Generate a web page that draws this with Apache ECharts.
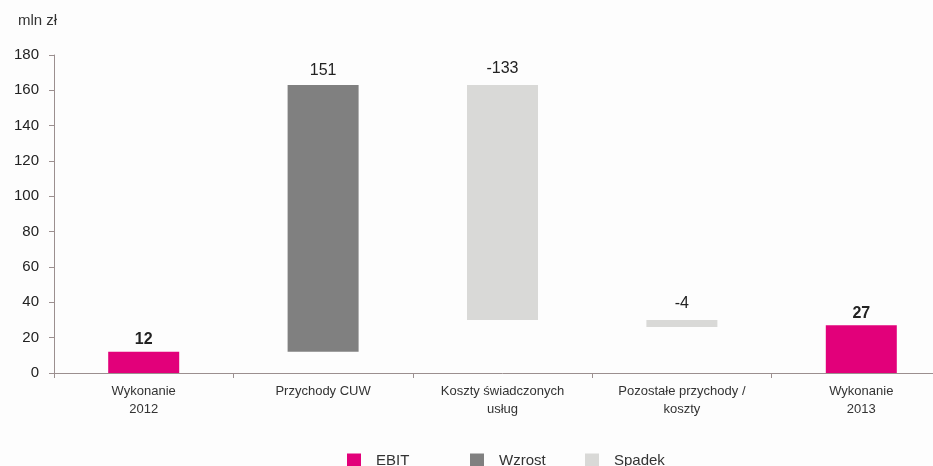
<!DOCTYPE html>
<html>
<head>
<meta charset="utf-8">
<script src="https://cdn.jsdelivr.net/npm/echarts@6/dist/echarts.min.js"></script>
<style>
  html, body { margin: 0; padding: 0; background: #fdfdfd; overflow: hidden; width: 933px; height: 466px; }
  /* the plot runs a little past the right edge of the page */
  #chart { width: 951px; height: 466px; }
</style>
</head>
<body>
<div id="chart"></div>
<script>
// EBIT bridge 2012 -> 2013 (mln zł)
const categories = ['Wykonanie\n2012', 'Przychody CUW', 'Koszty świadczonych\nusług', 'Pozostałe przychody /\nkoszty', 'Wykonanie\n2013'];
const ebitValues = [12, null, null, null, 27];
const changeValues = [null, 151, -133, -4, null];
const yMin = 0, yMax = 180, yStep = 20;

// Floating bars: each change starts where the running total stands
const baseValues = [];
let running = ebitValues[0];
categories.forEach((c, i) => {
  const ch = changeValues[i];
  if (ch == null) { baseValues.push('-'); return; }
  if (ch >= 0) { baseValues.push(running); running += ch; }
  else { running += ch; baseValues.push(running); }
});
const riseData = changeValues.map(v => (v != null && v >= 0) ? v : '-');
const fallData = changeValues.map(v => (v != null && v < 0) ? -v : '-');
const ebitData = ebitValues.map(v => v == null ? '-' : v);

const FONT = 'Liberation Sans, Arial, sans-serif';
const AXIS = '#9b8f8f';
const BAR_W = 71;
const legendText = { fontSize: 15, color: '#333', fontFamily: FONT, padding: [0, 0, 0, 10] };

const chart = echarts.init(document.getElementById('chart'), null, { renderer: 'canvas' });
chart.setOption({
  backgroundColor: '#fdfdfd',
  animation: false,
  textStyle: { fontFamily: FONT },
  graphic: [{
    type: 'text', left: 18, top: 13,
    style: { text: 'mln zł', fontSize: 15, fill: '#333', fontFamily: FONT }
  }],
  legend: [
    { top: 453, left: 347, padding: 0, itemWidth: 14, itemHeight: 14, icon: 'rect', textStyle: legendText, data: ['EBIT'] },
    { top: 453, left: 470, padding: 0, itemWidth: 14, itemHeight: 14, icon: 'rect', textStyle: legendText, data: ['Wzrost'] },
    { top: 453, left: 585, padding: 0, itemWidth: 14, itemHeight: 14, icon: 'rect', textStyle: legendText, data: ['Spadek'] }
  ],
  grid: { left: 54, right: 0, top: 55, height: 318, containLabel: false },
  xAxis: {
    type: 'category',
    data: categories,
    axisLine: { lineStyle: { color: AXIS, width: 1 } },
    axisTick: { show: true, length: 5, interval: 0, lineStyle: { color: AXIS } },
    axisLabel: { interval: 0, fontSize: 13, color: '#333', lineHeight: 18, margin: 9, fontFamily: FONT }
  },
  yAxis: {
    type: 'value', min: yMin, max: yMax, interval: yStep,
    axisLine: { show: true, lineStyle: { color: AXIS, width: 1 } },
    axisTick: { show: true, length: 5, lineStyle: { color: AXIS } },
    splitLine: { show: false },
    axisLabel: { fontSize: 15, color: '#222', margin: 15, fontFamily: FONT }
  },
  series: [
    {
      name: 'base', type: 'bar', stack: 'bridge', barWidth: BAR_W, silent: true,
      itemStyle: { color: 'transparent' },
      data: baseValues
    },
    {
      name: 'EBIT', type: 'bar', stack: 'bridge', barWidth: BAR_W,
      itemStyle: { color: '#e2007a' },
      label: { show: true, position: 'top', distance: 4, fontSize: 16, fontWeight: 'bold', color: '#222' },
      data: ebitData
    },
    {
      name: 'Wzrost', type: 'bar', stack: 'bridge', barWidth: BAR_W,
      itemStyle: { color: '#808080' },
      label: {
        show: true, position: 'top', distance: 6, fontSize: 16, color: '#222',
        formatter: p => String(changeValues[p.dataIndex])
      },
      data: riseData
    },
    {
      name: 'Spadek', type: 'bar', stack: 'bridge', barWidth: BAR_W,
      itemStyle: { color: '#d9d9d7' },
      label: {
        show: true, position: 'top', distance: 8, fontSize: 16, color: '#222',
        formatter: p => String(changeValues[p.dataIndex])
      },
      data: fallData
    }
  ]
});
</script>
</body>
</html>
